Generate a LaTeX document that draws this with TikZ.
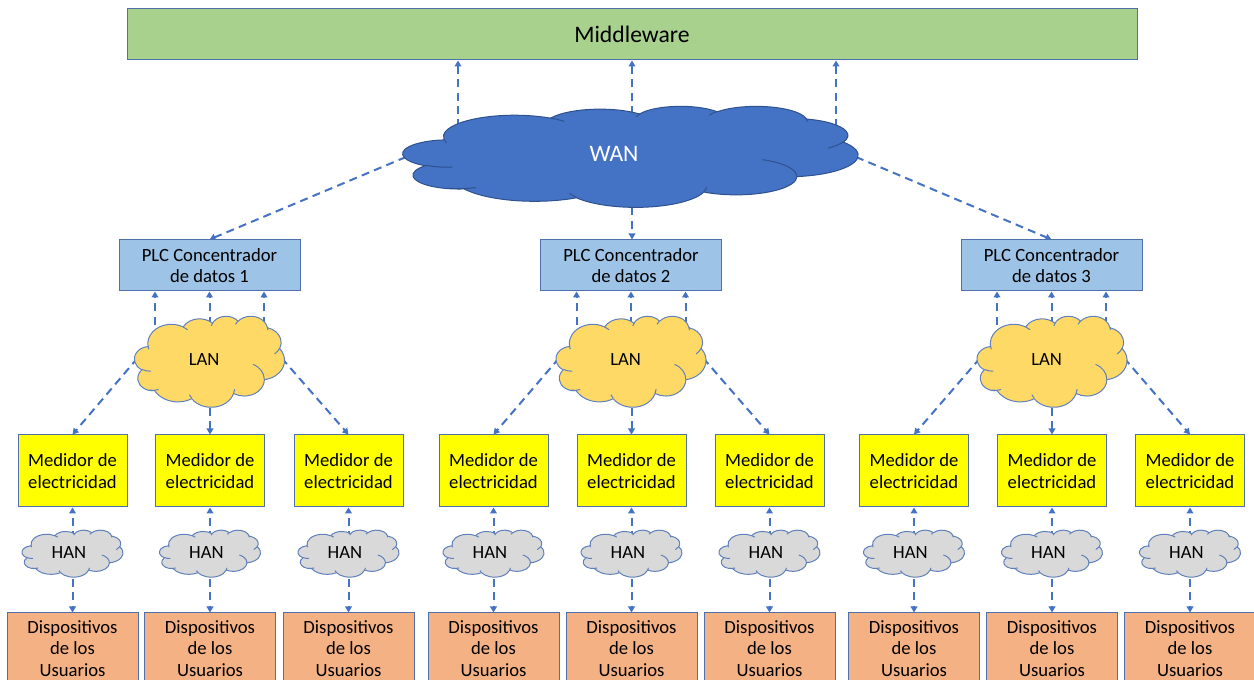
\documentclass[tikz,border=0pt]{standalone}
\usepackage{fontspec}
\setmainfont{Carlito}
\usetikzlibrary{arrows.meta,calc}

\definecolor{mwgreen}{HTML}{A9D18E}
\definecolor{plcblue}{HTML}{9DC3E6}
\definecolor{meteryellow}{HTML}{FFFF00}
\definecolor{devorange}{HTML}{F4B183}
\definecolor{lanyellow}{HTML}{FFD966}
\definecolor{hangray}{HTML}{D9D9D9}
\definecolor{wanblue}{HTML}{4472C4}
\definecolor{wanline}{HTML}{2F528F}
\definecolor{boxline}{HTML}{4F70AC}
\definecolor{cloudline}{HTML}{5F80BC}
\definecolor{arrowblue}{HTML}{4472C4}

\pgfdeclarelayer{background}
\pgfsetlayers{background,main}

\newcommand\bigfont{\fontsize{17.75}{21}\selectfont}
\newcommand\boxfont{\fontsize{14}{16.2}\selectfont}
\newcommand\netfont{\fontsize{14}{16}\selectfont}

% Office-style cloud inside the box (#1,#2) with width #3 and height #4 (px);
% #5 fill colour, #6 outline colour
\newcommand\offcloud[6]{%
  \begin{scope}[shift={(#1,#2)},xscale=#3/100,yscale=#4/100]
    \filldraw[fill=#5,draw=#6,line width=0.75pt,line join=round]
      (9.028,33.264)
      arc[start angle=-187.75,delta angle=128.11,x radius=15.632,y radius=21.273]
      arc[start angle=-152.02,delta angle=106.56,x radius=12.345,y radius=16.822]
      arc[start angle=-153.49,delta angle=116.18,x radius=10.104,y radius=13.762]
      arc[start angle=-139.71,delta angle=129.50,x radius=11.243,y radius=15.266]
      arc[start angle=-74.77,delta angle=97.98,x radius=12.345,y radius=16.836]
      arc[start angle=-37.52,delta angle=119.38,x radius=15.683,y radius=21.343]
      arc[start angle=0.46,delta angle=121.52,x radius=13.391,y radius=18.211]
      arc[start angle=16.84,delta angle=129.39,x radius=15.630,y radius=21.331]
      arc[start angle=58.98,delta angle=91.21,x radius=17.870,y radius=24.405]
      arc[start angle=-276.69,delta angle=139.80,x radius=10.093,y radius=13.699]
      arc[start angle=-239.64,delta angle=143.75,x radius=10.058,y radius=13.762]
      -- cycle;
    \draw[draw=#6,line width=0.75pt]
      (10.863,60.595) arc[start angle=85.55,delta angle=34.81,x radius=10.058,y radius=13.762]
      (16.037,80.785) arc[start angle=68.23,delta angle=34.94,x radius=10.093,y radius=13.699]
      (38.144,90.486) arc[start angle=146.23,delta angle=12.23,x radius=15.630,y radius=21.331]
      (66.729,80.442) arc[start angle=4.74,delta angle=12.10,x radius=15.630,y radius=21.331]
      (79.002,53.134) arc[start angle=-64.03,delta angle=64.49,x radius=13.391,y radius=18.211]
      (96.755,35.542) arc[start angle=23.21,delta angle=26.44,x radius=12.345,y radius=16.836]
      (88.713,12.560) arc[start angle=-10.21,delta angle=11.03,x radius=11.243,y radius=15.266]
      (67.310,9.148) arc[start angle=-156.29,delta angle=16.58,x radius=11.243,y radius=15.266]
      (51.252,10.926) arc[start angle=-167.73,delta angle=14.24,x radius=10.104,y radius=13.762]
      (32.407,12.019) arc[start angle=-59.64,delta angle=13.90,x radius=15.632,y radius=21.273]
      (9.553,36.549) arc[start angle=163.20,delta angle=9.05,x radius=15.632,y radius=21.273];
  \end{scope}}

\begin{document}
\begin{tikzpicture}[x=0.75pt,y=-0.75pt,
  box/.style={draw=boxline,line width=0.75pt,inner sep=0pt,align=center,font=\boxfont},
  mwbox/.style={box,fill=mwgreen,minimum width=757.5pt,minimum height=38.25pt,font=\bigfont},
  plcbox/.style={box,fill=plcblue,minimum width=135.75pt,minimum height=38.25pt},
  meterbox/.style={box,fill=meteryellow,minimum width=81.75pt,minimum height=54pt},
  devbox/.style={box,fill=devorange,minimum width=98.25pt,minimum height=53.25pt},
  cloudtext/.style={inner sep=0pt,font=\netfont},
  conn/.style={draw=arrowblue,line width=1.5pt,dash pattern=on 6pt off 4pt,
    -{Triangle[length=4.5pt,width=5pt]}}]
\useasboundingbox (0,0) rectangle (1254,680);
\clip (0,0) rectangle (1254,680);

% top layer
\node[mwbox] (mw) at (632,34.5) {Middleware};

\offcloud{403}{106}{455}{101}{wanblue}{wanline}
\node[inner sep=0pt,font=\bigfont,text=white] (wan) at (614,154) {WAN};

% data concentrators and their LAN clouds
\node[plcbox] (plc1) at (209.5,265.5) {PLC Concentrador\\de datos 1};
\node[plcbox] (plc2) at (631,265.5) {PLC Concentrador\\de datos 2};
\node[plcbox] (plc3) at (1051.5,265.5) {PLC Concentrador\\de datos 3};

\offcloud{134.5}{316}{150}{91}{lanyellow}{cloudline}
\node[cloudtext] (lan1) at (204.1,359.4) {LAN};
\offcloud{556}{316}{150}{91}{lanyellow}{cloudline}
\node[cloudtext] (lan2) at (625.6,359.4) {LAN};
\offcloud{977}{316}{150}{91}{lanyellow}{cloudline}
\node[cloudtext] (lan3) at (1046.6,359.4) {LAN};

% meters, HAN clouds and user devices
\foreach \c [count=\i] in {72.5,210,348.5,493.5,631.5,769.5,914,1052,1190}{
  \node[meterbox] (m\i) at (\c,471) {Medidor de\\electricidad};
  \offcloud{\c-50.5}{530}{101}{47}{hangray}{cloudline}
  \node[cloudtext] (han\i) at (\c-3.6,552.4) {HAN};
  \node[devbox] (d\i) at (\c,648.5) {Dispositivos\\de los\\Usuarios};
}

% connectors, kept behind the shapes
\begin{pgfonlayer}{background}
  \foreach \dx in {-156,18,222}{
    \coordinate (wu) at ($(wan)+(\dx,0)$);
    \draw[conn] (wu) -- (wu |- mw.south);
  }
  \draw[conn] ($(wan)+(-208,3)$) -- (plc1.north);
  \coordinate (wd) at ($(wan)+(18,0)$);
  \draw[conn] (wd) -- (wd |- plc2.north);
  \draw[conn] ($(wan)+(242,3)$) -- (plc3.north);

  \foreach \k in {1,2,3}{
    \foreach \dx in {-54.5,0,54.5}{
      \draw[conn] ($(plc\k.south)+(\dx,60)$) -- ($(plc\k.south)+(\dx,0)$);
    }
  }

  \foreach \k/\a/\b/\cc in {1/1/2/3,2/4/5/6,3/7/8/9}{
    \draw[conn] ($(lan\k)+(-66.5,-1.4)$) -- (m\a.north);
    \draw[conn] ($(m\b.north)+(0,-40)$) -- (m\b.north);
    \draw[conn] ($(lan\k)+(77.5,-1.4)$) -- (m\cc.north);
  }

  \foreach \i in {1,...,9}{
    \draw[conn] (m\i.south |- han\i) -- (m\i.south);
    \draw[conn] (d\i.north |- han\i) -- (d\i.north);
  }
\end{pgfonlayer}
\end{tikzpicture}
\end{document}
